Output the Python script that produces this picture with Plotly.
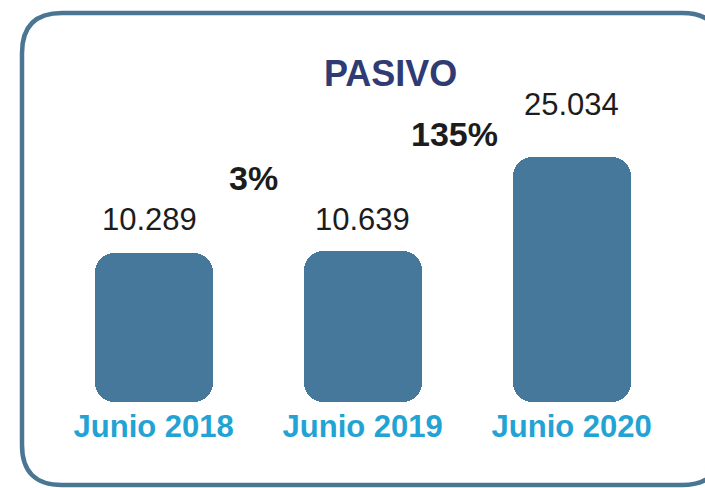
import plotly.graph_objects as go

# ---- data ----
categories = ["Junio 2018", "Junio 2019", "Junio 2020"]
values = [10.289, 10.639, 25.034]
value_labels = ["10.289", "10.639", "25.034"]
growth_labels = ["3%", "135%"]
title_text = "PASIVO"

# ---- style ----
BAR_COLOR = "#45789b"
TICK_COLOR = "#22a3d3"
TITLE_COLOR = "#2f3b72"
TEXT_COLOR = "#1c1c1c"
BORDER_COLOR = "#4a7593"
FONT = "Liberation Sans, Arial, sans-serif"
OFF = 0                   # page body margin removed via post_script
W, H = 705, 488
BAR_FOOT = 12.6           # visual pedestal below zero so bars have rounded bottoms
label_yshift = [14, 12, 33]
label_xshift = [-4, 0, 0]


def px(xs, ys):
    """screen pixel -> paper coordinate"""
    return (xs - OFF) / W, 1 - (ys - OFF) / H


fig = go.Figure()
fig.add_trace(go.Bar(
    x=categories, y=values, width=0.565,
    marker=dict(color=BAR_COLOR, cornerradius=19, line=dict(width=0)),
    hoverinfo="skip", showlegend=False,
))
fig.add_trace(go.Bar(
    x=categories, y=[-BAR_FOOT] * len(categories), width=0.565,
    marker=dict(color=BAR_COLOR, cornerradius=19, line=dict(width=0)),
    hoverinfo="skip", showlegend=False,
))

annotations = []
for i, (c, v, t) in enumerate(zip(categories, values, value_labels)):
    annotations.append(dict(
        x=c, y=v, xref="x", yref="y", text=t, showarrow=False,
        yanchor="bottom", yshift=label_yshift[i], xshift=label_xshift[i],
        font=dict(family=FONT, size=31, color=TEXT_COLOR),
    ))

for t, (xs, ys) in zip(growth_labels, [(253, 199), (454, 155)]):
    xx, yy = px(xs, ys)
    annotations.append(dict(
        x=xx, y=yy, xref="paper", yref="paper", text=t, showarrow=False,
        xanchor="center", yanchor="bottom",
        font=dict(family=FONT, size=34, color=TEXT_COLOR, weight="bold"),
    ))

tx, ty = px(390, 96)
annotations.append(dict(
    x=tx, y=ty, xref="paper", yref="paper", text=title_text, showarrow=False,
    xanchor="center", yanchor="bottom",
    font=dict(family=FONT, size=36, color=TITLE_COLOR, weight="bold"),
))

# rounded border (screen coords converted to paper coords)
L, T, R, B, rad = 22, 13, 722, 485, 40


def P(xs, ys):
    a, b = px(xs, ys)
    return f"{a:.5f},{b:.5f}"


path = (
    f"M {P(L + rad, T)} L {P(R - rad, T)} Q {P(R, T)} {P(R, T + rad)} "
    f"L {P(R, B - rad)} Q {P(R, B)} {P(R - rad, B)} "
    f"L {P(L + rad, B)} Q {P(L, B)} {P(L, B - rad)} "
    f"L {P(L, T + rad)} Q {P(L, T)} {P(L + rad, T)} Z"
)

# axes: category 0 centred at screen x=153.7, 209 px per category
x0_fig, step = 153.7 - OFF, 209.0
plot_bottom_fig = 405 - OFF
zero_fig, ppu = 320 - OFF, 6.51

fig.update_layout(
    width=W, height=H,
    margin=dict(l=0, r=0, t=0, b=0),
    paper_bgcolor="white", plot_bgcolor="rgba(0,0,0,0)",
    barmode="relative", bargap=0,
    annotations=annotations,
    shapes=[dict(type="path", path=path, xref="paper", yref="paper",
                 line=dict(color=BORDER_COLOR, width=4.5), layer="above")],
    xaxis=dict(
        domain=[0, 1], range=[-x0_fig / step, (W - x0_fig) / step],
        showgrid=False, zeroline=False, showline=False, ticks="",
        tickfont=dict(family=FONT, size=31, color=TICK_COLOR, weight="bold"),
        fixedrange=True,
    ),
    yaxis=dict(
        domain=[1 - plot_bottom_fig / H, 1],
        range=[-(plot_bottom_fig - zero_fig) / ppu, zero_fig / ppu],
        visible=False, showgrid=False, zeroline=False, fixedrange=True,
    ),
)

fig.write_html(
    "out.html",
    config={"displayModeBar": False},
    post_script="document.body.style.margin='0';document.body.style.overflow='hidden';",
)
